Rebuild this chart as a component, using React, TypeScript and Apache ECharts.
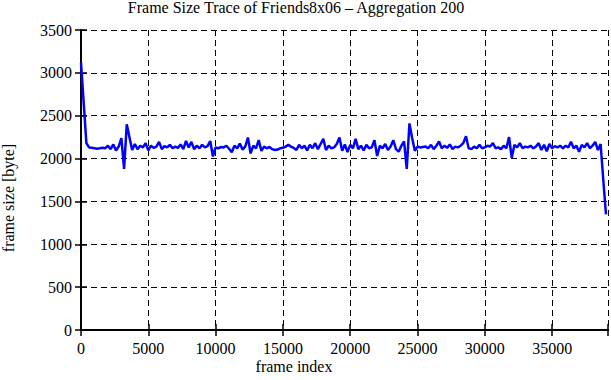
import React, { useEffect, useRef } from "react";
import * as echarts from "echarts";

const titleText = "Frame Size Trace of Friends8x06 – Aggregation 200";
const xLabel = "frame index";
const yLabel = "frame size [byte]";
const step = 200;
const frameSizes: number[] = [
  3120, 2650, 2180, 2130, 2125, 2120, 2115, 2120, 2125, 2120,
  2150, 2110, 2165, 2095, 2140, 2240, 1880, 2400, 2250, 2100,
  2170, 2110, 2150, 2130, 2180, 2095, 2150, 2125, 2140, 2195,
  2110, 2145, 2130, 2160, 2120, 2140, 2125, 2165, 2110, 2205,
  2130, 2195, 2110, 2150, 2120, 2160, 2130, 2145, 2205, 2025,
  2130, 2120, 2135, 2130, 2150, 2115, 2075, 2150, 2120, 2175,
  2105, 2140, 2245, 2060, 2150, 2120, 2215, 2090, 2140, 2120,
  2135, 2110, 2100, 2105, 2120, 2125, 2140, 2160, 2140, 2125,
  2100, 2160, 2120, 2150, 2095, 2160, 2120, 2180, 2110, 2170,
  2230, 2100, 2150, 2120, 2130, 2170, 2245, 2090, 2165, 2075,
  2160, 2120, 2230, 2110, 2150, 2095, 2160, 2120, 2130, 2215,
  2030, 2150, 2120, 2170, 2100, 2140, 2215, 2110, 2080, 2150,
  2200, 1880, 2410, 2240, 2090, 2140, 2130, 2135, 2140, 2120,
  2160, 2110, 2150, 2200, 2120, 2150, 2125, 2165, 2110, 2140,
  2130, 2150, 2180, 2260, 2120, 2110, 2140, 2120, 2160, 2120,
  2130, 2150, 2140, 2180, 2120, 2130, 2110, 2150, 2120, 2250,
  2010, 2160, 2130, 2180, 2120, 2140, 2130, 2150, 2120, 2140,
  2180, 2100, 2160, 2085, 2170, 2120, 2145, 2130, 2150, 2120,
  2150, 2130, 2195, 2120, 2150, 2080, 2160, 2130, 2180, 2120,
  2150, 2195, 2100, 2170, 1750, 1350,
];
const xMax = 39150;
const xInterval = 5000;
const yMax = 3500;
const yInterval = 500;

const FAMILY = "Liberation Serif";

export default function App() {
  const ref = useRef<HTMLDivElement>(null);
  useEffect(() => {
    if (!ref.current) return;
    const chart = echarts.init(ref.current, undefined, { renderer: "svg" });
    const data = frameSizes.map((v, i) => [i * step, v]);
    const axisLine = { show: true, lineStyle: { color: "#000", width: 2 } };
    const tick = { show: true, inside: true, length: 6, lineStyle: { color: "#000", width: 1.5 } };
    const split = { show: true, lineStyle: { color: "#000", width: 1, type: [6, 4] as any } };
    const textStyle = { fontFamily: FAMILY, fontSize: 16, fill: "#000" };
    chart.setOption({
      animation: false,
      textStyle: { fontFamily: FAMILY },
      grid: { left: 81, right: 3, top: 30, bottom: 50, containLabel: false },
      graphic: [
        { type: "text", x: 296, y: -1, style: { ...textStyle, text: titleText, align: "center", verticalAlign: "top" } },
        { type: "text", x: 294, y: 366, style: { ...textStyle, text: xLabel, align: "center", verticalAlign: "middle" } },
        { type: "text", x: 8, y: 198, rotation: Math.PI / 2, style: { ...textStyle, text: yLabel, align: "center", verticalAlign: "middle" } },
      ],
      xAxis: [
        {
          type: "value", min: 0, max: xMax, interval: xInterval, position: "bottom",
          axisLine, axisTick: tick, splitLine: split,
          axisLabel: {
            color: "#000", fontFamily: FAMILY, fontSize: 16, margin: 10,
            formatter: (v: number) => (v % xInterval === 0 ? String(v) : ""),
          },
        },
        {
          type: "value", min: 0, max: xMax, interval: xInterval, position: "top",
          axisLine, axisTick: tick, splitLine: { show: false }, axisLabel: { show: false },
        },
      ],
      yAxis: [
        {
          type: "value", min: 0, max: yMax, interval: yInterval, position: "left",
          axisLine, axisTick: tick, splitLine: split,
          axisLabel: { color: "#000", fontFamily: FAMILY, fontSize: 16, margin: 9, formatter: (v: number) => String(v) },
        },
        {
          type: "value", min: 0, max: yMax, interval: yInterval, position: "right",
          axisLine, axisTick: tick, splitLine: { show: false }, axisLabel: { show: false },
        },
      ],
      series: [
        {
          type: "line", data, xAxisIndex: 0, yAxisIndex: 0, showSymbol: false, symbol: "none",
          lineStyle: { color: "#0000ff", width: 2.5 }, z: 5,
        },
      ],
    });
    return () => chart.dispose();
  }, []);
  return <div ref={ref} style={{ width: 611, height: 380, position: "absolute", left: 0, top: 0 }} />;
}
